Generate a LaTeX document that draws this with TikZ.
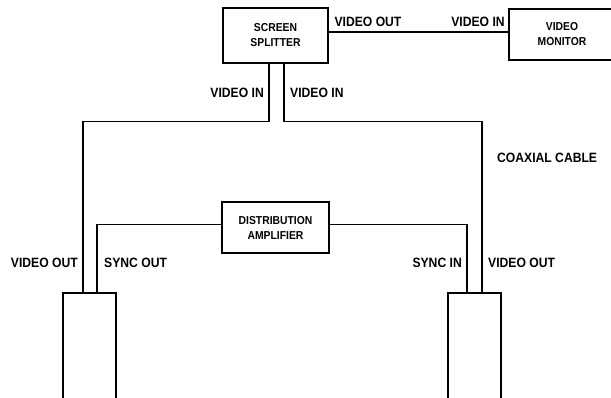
\documentclass[tikz,border=0pt]{standalone}
\usepackage{fontspec}
\setmainfont{Liberation Sans}[FakeStretch=0.9]
\begin{document}
\begin{tikzpicture}[x=1pt,y=-1pt,
  box/.style={draw,line width=1.3pt,inner sep=0pt,align=center,
    font=\fontsize{11.5}{15}\selectfont\bfseries},
  cam/.style={draw,line width=1.3pt,inner sep=0pt,minimum width=53pt,minimum height=140pt},
  wire/.style={line width=1.1pt},
  lbl/.style={inner sep=0pt,font=\fontsize{13.5}{15}\selectfont\bfseries}]
\useasboundingbox (0,0) rectangle (611,398);
\clip (0,0) rectangle (611,398);
\node[box,minimum width=105pt,minimum height=55pt] (split) at (275.5,35.5) {SCREEN\\SPLITTER};
\node[box,minimum width=106pt,minimum height=51pt] (mon) at (562,34.5) {VIDEO\\MONITOR};
\node[box,minimum width=107pt,minimum height=51pt] (amp) at (275.5,227.5) {DISTRIBUTION\\AMPLIFIER};
\node[cam] (camL) at (89.5,363) {};
\node[cam] (camR) at (474.5,363) {};
\draw[wire] ([yshift=3.5pt]split.east) -- ([yshift=3.5pt]split.east -| mon.west);
\draw[wire] ([xshift=-6.5pt]split.south) -- ++(0,58) -| ([xshift=-6.5pt]camL.north);
\draw[wire] ([xshift=8.5pt]split.south) -- ++(0,58) -| ([xshift=7.5pt]camR.north);
\draw[wire] ([yshift=3pt]amp.west) -| ([xshift=7.5pt]camL.north);
\draw[wire] ([yshift=3pt]amp.east) -| ([xshift=-7.5pt]camR.north);
\node[lbl] (l1) at (368,22) {VIDEO OUT};
\node[lbl] (l2) at (478,22) {VIDEO IN};
\node[lbl,anchor=east] (l3) at (264,93) {VIDEO IN};
\node[lbl,anchor=west] (l4) at (290,93) {VIDEO IN};
\node[lbl,anchor=west] (l5) at (497,158) {COAXIAL CABLE};
\node[lbl,anchor=east] (l6) at (78,263) {VIDEO OUT};
\node[lbl,anchor=west] (l7) at (104,263) {SYNC OUT};
\node[lbl,anchor=east] (l8) at (462,263) {SYNC IN};
\node[lbl,anchor=west] (l9) at (488,263) {VIDEO OUT};
\end{tikzpicture}
\end{document}
